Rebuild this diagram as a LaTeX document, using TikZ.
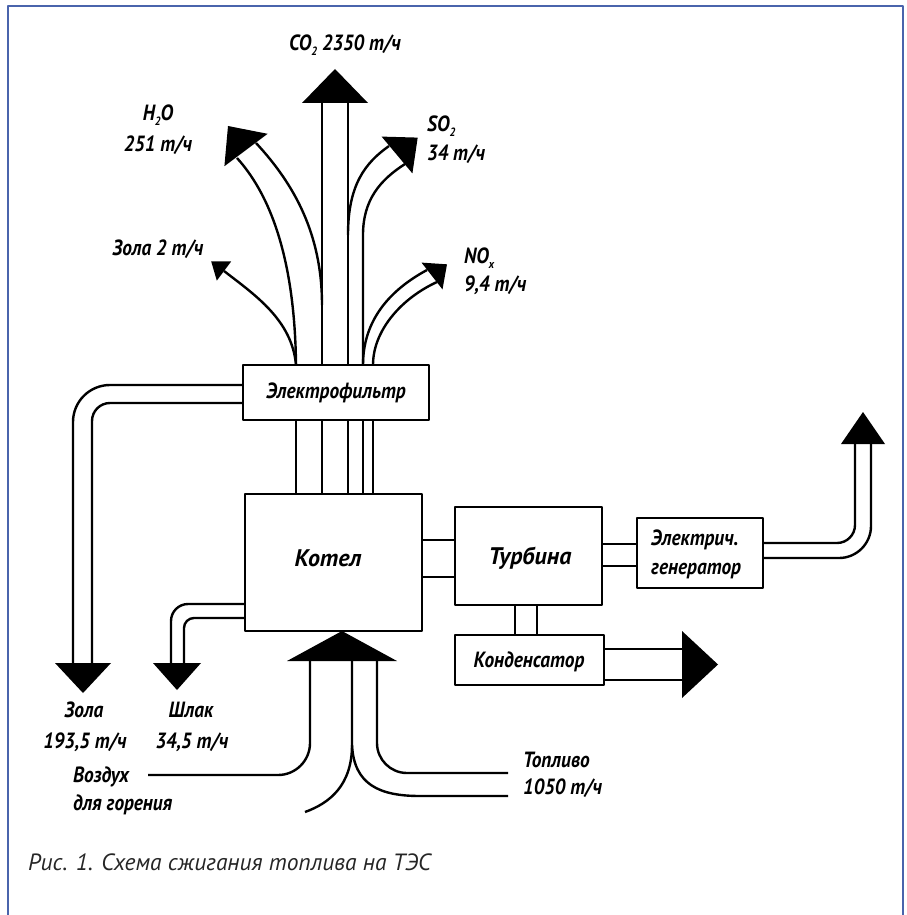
\documentclass[tikz,border=0pt]{standalone}
\usepackage{fontspec}
\setmainfont{PT Sans}
\newfontfamily\labfont{PT Sans}[FakeStretch=0.88]
\newfontfamily\boxfont{PT Sans}
\definecolor{framecol}{HTML}{4A64AC}
\newcommand\sbs[1]{\raisebox{-0.4ex}{\fontsize{12}{12}\selectfont #1}}
\begin{document}
\begin{tikzpicture}[x=1pt,y=-1pt,line join=round,
  ln/.style={line width=2.4pt},
  box/.style={draw,line width=2.6pt,fill=white,inner sep=0pt,outer sep=0pt},
  lbl/.style={font=\labfont\bfseries\itshape\fontsize{22}{22}\selectfont,inner sep=0pt},
  blbl/.style={font=\boxfont\bfseries\itshape\fontsize{24}{24}\selectfont,inner sep=0pt},
  captext/.style={font=\boxfont\itshape\fontsize{23.5}{23.5}\selectfont,text=black!85,inner sep=0pt,anchor=west}]
\useasboundingbox (0,0) rectangle (906,915);
\draw[framecol,line width=2pt] (8,930) -- (8,6) -- (903,6) -- (903,930);

% boxes
\node[box,minimum width=186pt,minimum height=55pt] (filt) at (336,392.5) {};
\node[box,minimum width=177pt,minimum height=137pt] (kotel) at (333.5,562.5) {};
\node[box,minimum width=147pt,minimum height=98pt] (turb) at (528.5,556) {};
\node[box,minimum width=126pt,minimum height=70pt] (gen) at (700,553) {};
\node[box,minimum width=149pt,minimum height=50pt] (cond) at (529.5,660) {};

% filter -> boiler
\foreach \x in {296,322,348,363,373}
  \draw[ln] (filt.south -| \x,0) -- (kotel.north -| \x,0);

% stack flows
\draw[ln] (filt.north -| 322,0) -- (322,103);
\draw[ln] (filt.north -| 348,0) -- (348,103);
\draw[ln] (filt.north -| 296,0) .. controls (295,270) and (275,200) .. (237,158);
\draw[ln] (322,305) .. controls (322,235) and (295,185) .. (256,143);
\draw[ln] (348,235) .. controls (348,185) and (365,163) .. (389,146);
\draw[ln] (filt.north -| 363,0) -- (363,235) .. controls (363,200) and (380,180) .. (405,164);
\draw[ln] (filt.north -| 363,0) .. controls (363,320) and (390,290) .. (427,270);
\draw[ln] (filt.north -| 373,0) .. controls (373,330) and (402,298) .. (437,282);
\draw[ln] (filt.north -| 296,0) .. controls (292,320) and (255,295) .. (224,271);

% arrowheads of the stack flows
\fill (302,103) coordinate (co2a) -- (335,69) coordinate (co2t) -- (368,103) coordinate (co2b) -- cycle;
\fill (267.6,133.8) coordinate (h2oa) -- (228,126) coordinate (h2ot) -- (224.4,166.2) coordinate (h2ob) -- cycle;
\fill (381.6,136.6) coordinate (so2a) -- (417.7,137.6) coordinate (so2t) -- (412.4,173.4) coordinate (so2b) -- cycle;
\fill (421.5,262.6) coordinate (noxa) -- (447,264.3) coordinate (noxt) -- (442.5,289.4) coordinate (noxb) -- cycle;
\fill (231.2,261.4) coordinate (zl2a) -- (211.2,261.4) coordinate (zl2t) -- (216.8,280.6) coordinate (zl2b) -- cycle;

% ash band
\draw[ln,rounded corners=37pt] (filt.west |- 0,385) -- (73,385) -- (73,663);
\draw[ln,rounded corners=18pt] (filt.west |- 0,403) -- (92,403) -- (92,663);
\fill (55,663) coordinate (zla) -- (83,693) coordinate (zlt) -- (111,663) coordinate (zlb) -- cycle;

% slag band
\draw[ln,rounded corners=17pt] (kotel.west |- 0,604) -- (171,604) -- (171,663);
\draw[ln,rounded corners=10pt] (kotel.west |- 0,618) -- (184,618) -- (184,663);
\fill (153,663) coordinate (sla) -- (177,690) coordinate (slt) -- (201,663) coordinate (slb) -- cycle;

% air / fuel
\draw[ln,rounded corners=32pt] (310,661) -- (310,775) -- (148,775);
\draw[ln] (352,661) -- (352,745) .. controls (352,785) and (330,803) .. (305,812);
\draw[ln] (352,745) .. controls (354,785) and (380,796) .. (420,796) -- (508,796);
\draw[ln,rounded corners=30pt] (377,661) -- (377,773) -- (508,773);
\fill (287,661) coordinate (aira) -- (342,631) coordinate (airt) -- (397,661) coordinate (airb) -- cycle;

% boiler -> turbine -> generator / condenser
\draw[ln] (kotel.east |- 0,540) -- (turb.west |- 0,540);
\draw[ln] (kotel.east |- 0,577) -- (turb.west |- 0,577);
\draw[ln] (turb.east |- 0,544) -- (gen.west |- 0,544);
\draw[ln] (turb.east |- 0,566) -- (gen.west |- 0,566);
\draw[ln] (turb.south -| 515,0) -- (cond.north -| 515,0);
\draw[ln] (turb.south -| 537,0) -- (cond.north -| 537,0);
\draw[ln,rounded corners=18pt] (gen.east |- 0,543) -- (855,543) -- (855,444);
\draw[ln,rounded corners=32pt] (gen.east |- 0,558) -- (871,558) -- (871,444);
\fill (841,444) coordinate (gna) -- (863,412) coordinate (gnt) -- (885,444) coordinate (gnb) -- cycle;
\draw[ln] (cond.east |- 0,649) -- (682,649);
\draw[ln] (cond.east |- 0,680) -- (682,680);
\fill (682,631) coordinate (cda) -- (718,664.5) coordinate (cdt) -- (682,698) coordinate (cdb) -- cycle;

% box labels
\node[lbl] (tfilt) at (filt) {Электрофильтр};
\node[blbl] (tkot) at (328,558) {Котел};
\node[blbl] (tturb) at (530,558) {Турбина};
\node[lbl,anchor=west] (tgen1) at (651,540) {Электрич.};
\node[lbl,anchor=west] (tgen2) at (651,571) {генератор};
\node[lbl] (tcond) at (529,662) {Конденсатор};

% flow labels
\node[lbl] (lco2) at (345,45) {CO\sbs{2} 2350 т/ч};
\node[lbl] (lh2o) at (158,115) {H\sbs{2}O};
\node[lbl] (lh2ob) at (158,145) {251 т/ч};
\node[lbl,anchor=west] (lso2) at (427,126) {SO\sbs{2}};
\node[lbl,anchor=west] (lso2b) at (427,154) {34 т/ч};
\node[lbl] (lzol2) at (158,249) {Зола 2 т/ч};
\node[lbl,anchor=west] (lnox) at (464,258) {NO\sbs{x}};
\node[lbl,anchor=west] (lnoxb) at (464,285) {9,4 т/ч};
\node[lbl] (lzol) at (84,710) {Зола};
\node[lbl] (lzolb) at (85,742) {193,5 т/ч};
\node[lbl] (lshl) at (191,710) {Шлак};
\node[lbl] (lshlb) at (192,742) {34,5 т/ч};
\node[lbl,anchor=west] (lair) at (73,777) {Воздух};
\node[lbl,anchor=west] (lairb) at (73,805) {для горения};
\node[lbl,anchor=west] (ltop) at (523,760) {Топливо};
\node[lbl,anchor=west] (ltopb) at (523,788) {1050 т/ч};

\node[captext] (caption) at (28,862) {Рис. 1. Схема сжигания топлива на ТЭС};
\end{tikzpicture}
\end{document}
